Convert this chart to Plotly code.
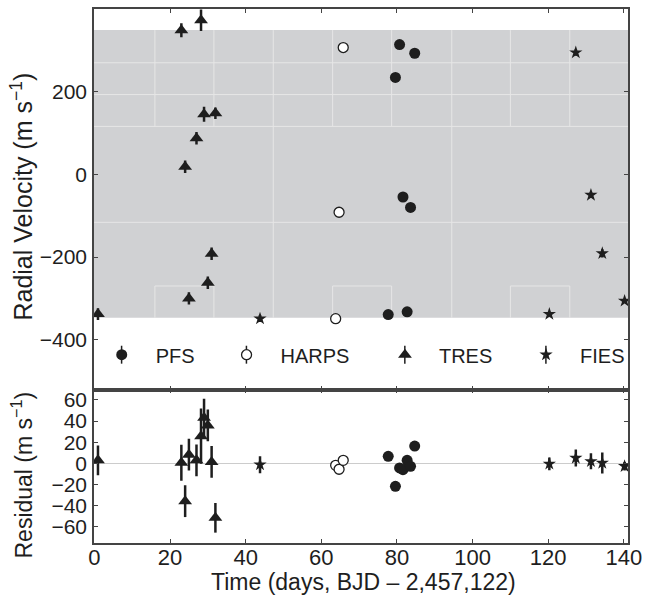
import plotly.graph_objects as go
from plotly.subplots import make_subplots

# ---------------- data ----------------
pfs_t = [77.7, 79.6, 80.7, 81.6, 82.7, 83.6, 84.7]
pfs_rv = [-339, 234.5, 314, -54.7, -332.5, -80, 293]
pfs_res = [6.6, -21.7, -4.4, -6.0, 2.8, -2.8, 16.3]
pfs_err = [3, 3, 3, 3, 3, 3, 3]

harps_t = [63.8, 64.7, 65.8]
harps_rv = [-349, -91.6, 306.8]
harps_res = [-1.9, -5.6, 2.8]
harps_err = [3, 3, 3]

tres_t = [0.95, 23.0, 24.0, 25.0, 27.0, 28.2, 29.0, 30.0, 31.0, 32.0]
tres_rv = [-338, 348.6, 18.5, -300, 87.5, 372.8, 145.3, -262, -192, 147.7]
tres_res = [2.8, 0.6, -35.8, 8.2, 2.8, 25.7, 43.0, 35.8, 1.3, -51.5]
tres_err = [14, 17, 15, 15, 15, 26, 18, 15, 15, 14]

fies_t = [43.8, 120.3, 127.3, 131.3, 134.3, 140.2]
fies_rv = [-349, -338, 294.7, -49.9, -191, -306]
fies_res = [-1.3, -0.6, 5.0, 1.9, 0.3, -2.8]
fies_err = [8, 6, 8, 7.5, 10, 4]

x_ticks = [0, 20, 40, 60, 80, 100, 120, 140]
rv_ticks = [-400, -200, 0, 200]
res_ticks = [-60, -40, -20, 0, 20, 40, 60]

# background artefact (grey band with faint grid)
band_y = [-347, 349]
band_hlines = [270, 193, 116, -116]
band_vlines_full = [47.3, 94.5]
band_vlines_part = [16, 31.6, 63, 78.6, 110, 125.7]

# ---------------- figure ----------------
FONT = "Liberation Sans, Arial, sans-serif"
INK = "#1e1e1e"
W, H = 649, 601
L, R, T, B = 94, 19, 7, 58
PW, PH = W - L - R, H - T - B


def px_x(px):
    return (px - L) / PW


def px_y(py):
    return (H - B - py) / PH


fig = make_subplots(rows=2, cols=1, shared_xaxes=True, vertical_spacing=0,
                    row_heights=[382 / 536, 154 / 536])

series = [
    ("PFS", pfs_t, pfs_rv, pfs_res, pfs_err, dict(symbol="circle", size=11, color=INK), "legend"),
    ("HARPS", harps_t, harps_rv, harps_res, harps_err,
     dict(symbol="circle", size=10, color="white", line=dict(width=1.3, color=INK)), "legend2"),
    ("TRES", tres_t, tres_rv, tres_res, tres_err, dict(symbol="triangle-up", size=12, color=INK), "legend3"),
    ("FIES", fies_t, fies_rv, fies_res, fies_err, dict(symbol="star", size=10, color=INK), "legend4"),
]
for name, t, rv, res, err, mk, lg in series:
    fig.add_trace(go.Scatter(x=t, y=rv, mode="markers", name=name, marker=mk,
                             error_y=dict(type="data", array=err, color=INK, thickness=2.5, width=0),
                             legend=lg, showlegend=True), row=1, col=1)
    fig.add_trace(go.Scatter(x=t, y=res, mode="markers", name=name, marker=mk,
                             error_y=dict(type="data", array=err, color=INK, thickness=2.5, width=0),
                             showlegend=False), row=2, col=1)

shapes = []
XR = [-0.1, 141.1]
shapes.append(dict(type="rect", xref="x", yref="y", x0=XR[0], x1=XR[1], y0=band_y[0], y1=band_y[1],
                   fillcolor="#d0d1d3", line=dict(width=0), layer="below"))
gl = dict(color="#e6e6e6", width=1)
for yv in band_hlines:
    shapes.append(dict(type="line", xref="x", yref="y", x0=XR[0], x1=XR[1], y0=yv, y1=yv, line=gl, layer="below"))
for xv in band_vlines_full:
    shapes.append(dict(type="line", xref="x", yref="y", x0=xv, x1=xv, y0=band_y[0], y1=band_y[1], line=gl, layer="below"))
for xv in band_vlines_part:
    shapes.append(dict(type="line", xref="x", yref="y", x0=xv, x1=xv, y0=band_hlines[2], y1=band_y[1], line=gl, layer="below"))
    shapes.append(dict(type="line", xref="x", yref="y", x0=xv, x1=xv, y0=band_y[0], y1=-270, line=gl, layer="below"))
for a, b in zip(band_vlines_part[0::2], band_vlines_part[1::2]):
    shapes.append(dict(type="line", xref="x", yref="y", x0=a, x1=b, y0=-270, y1=-270, line=gl, layer="below"))

# legend positions (pixel centres of the legend symbols)
leg_sym_px = [121.7, 247, 406, 547.6]
LEG_ITEMW = 58          # symbol centre sits at 5 + itemwidth/2 from the legend's left edge
leg_off = 5 + LEG_ITEMW / 2
leg_cy = 354
legs = {}
for i, key in enumerate(["legend", "legend2", "legend3", "legend4"]):
    legs[key] = dict(x=px_x(leg_sym_px[i] - leg_off), y=px_y(leg_cy), xanchor="left", yanchor="middle",
                     bgcolor="rgba(0,0,0,0)", itemwidth=LEG_ITEMW,
                     font=dict(family=FONT, size=20, color=INK), borderwidth=0,
                     itemclick=False, itemdoubleclick=False)
# small vertical bars through the legend symbols (error-bar glyph)
for sx in leg_sym_px:
    shapes.append(dict(type="line", xref="paper", yref="paper", x0=px_x(sx), x1=px_x(sx),
                       y0=px_y(leg_cy + 9), y1=px_y(leg_cy - 9), line=dict(color=INK, width=1.5),
                       layer="above"))

axis_common = dict(showline=True, linecolor="#444444", linewidth=1.5, mirror="allticks",
                   ticks="inside", ticklen=4, tickcolor="#444444", showgrid=False, zeroline=False)

fig.update_xaxes(**axis_common, range=XR, tickvals=x_ticks, ticklabelstandoff=-6,
                 tickfont=dict(family=FONT, size=22, color=INK))
fig.update_xaxes(showticklabels=False, row=1, col=1)
fig.update_yaxes(**axis_common, ticklabelstandoff=1)
fig.update_yaxes(range=[-520.5, 400], tickvals=rv_ticks, tickfont=dict(family=FONT, size=21, color=INK),
                 row=1, col=1)
fig.update_yaxes(range=[-75.3, 69.7], tickvals=res_ticks, zeroline=True, zerolinecolor="#cccccc",
                 zerolinewidth=1, tickfont=dict(family=FONT, size=21, color=INK), row=2, col=1)

annotations = [
    dict(text="Radial Velocity (m s<sup>−1</sup>)", xref="paper", yref="paper",
         x=px_x(22), y=px_y(195), textangle=-90, showarrow=False,
         font=dict(family=FONT, size=25, color=INK), xanchor="center", yanchor="middle"),
    dict(text="Residual (m s<sup>−1</sup>)", xref="paper", yref="paper",
         x=px_x(22), y=px_y(475), textangle=-90, showarrow=False,
         font=dict(family=FONT, size=23, color=INK), xanchor="center", yanchor="middle"),
    dict(text="Time (days, BJD – 2,457,122)", xref="paper", yref="paper",
         x=px_x(365), y=px_y(582), showarrow=False,
         font=dict(family=FONT, size=23, color=INK), xanchor="center", yanchor="middle"),
]

fig.update_layout(width=W, height=H, margin=dict(l=L, r=R, t=T, b=B),
                  plot_bgcolor="white", paper_bgcolor="white", shapes=shapes,
                  annotations=annotations, **legs)

fig.write_html("out.html", config={"displayModeBar": False},
               post_script="document.body.style.margin='0px';document.body.style.padding='0px';")
